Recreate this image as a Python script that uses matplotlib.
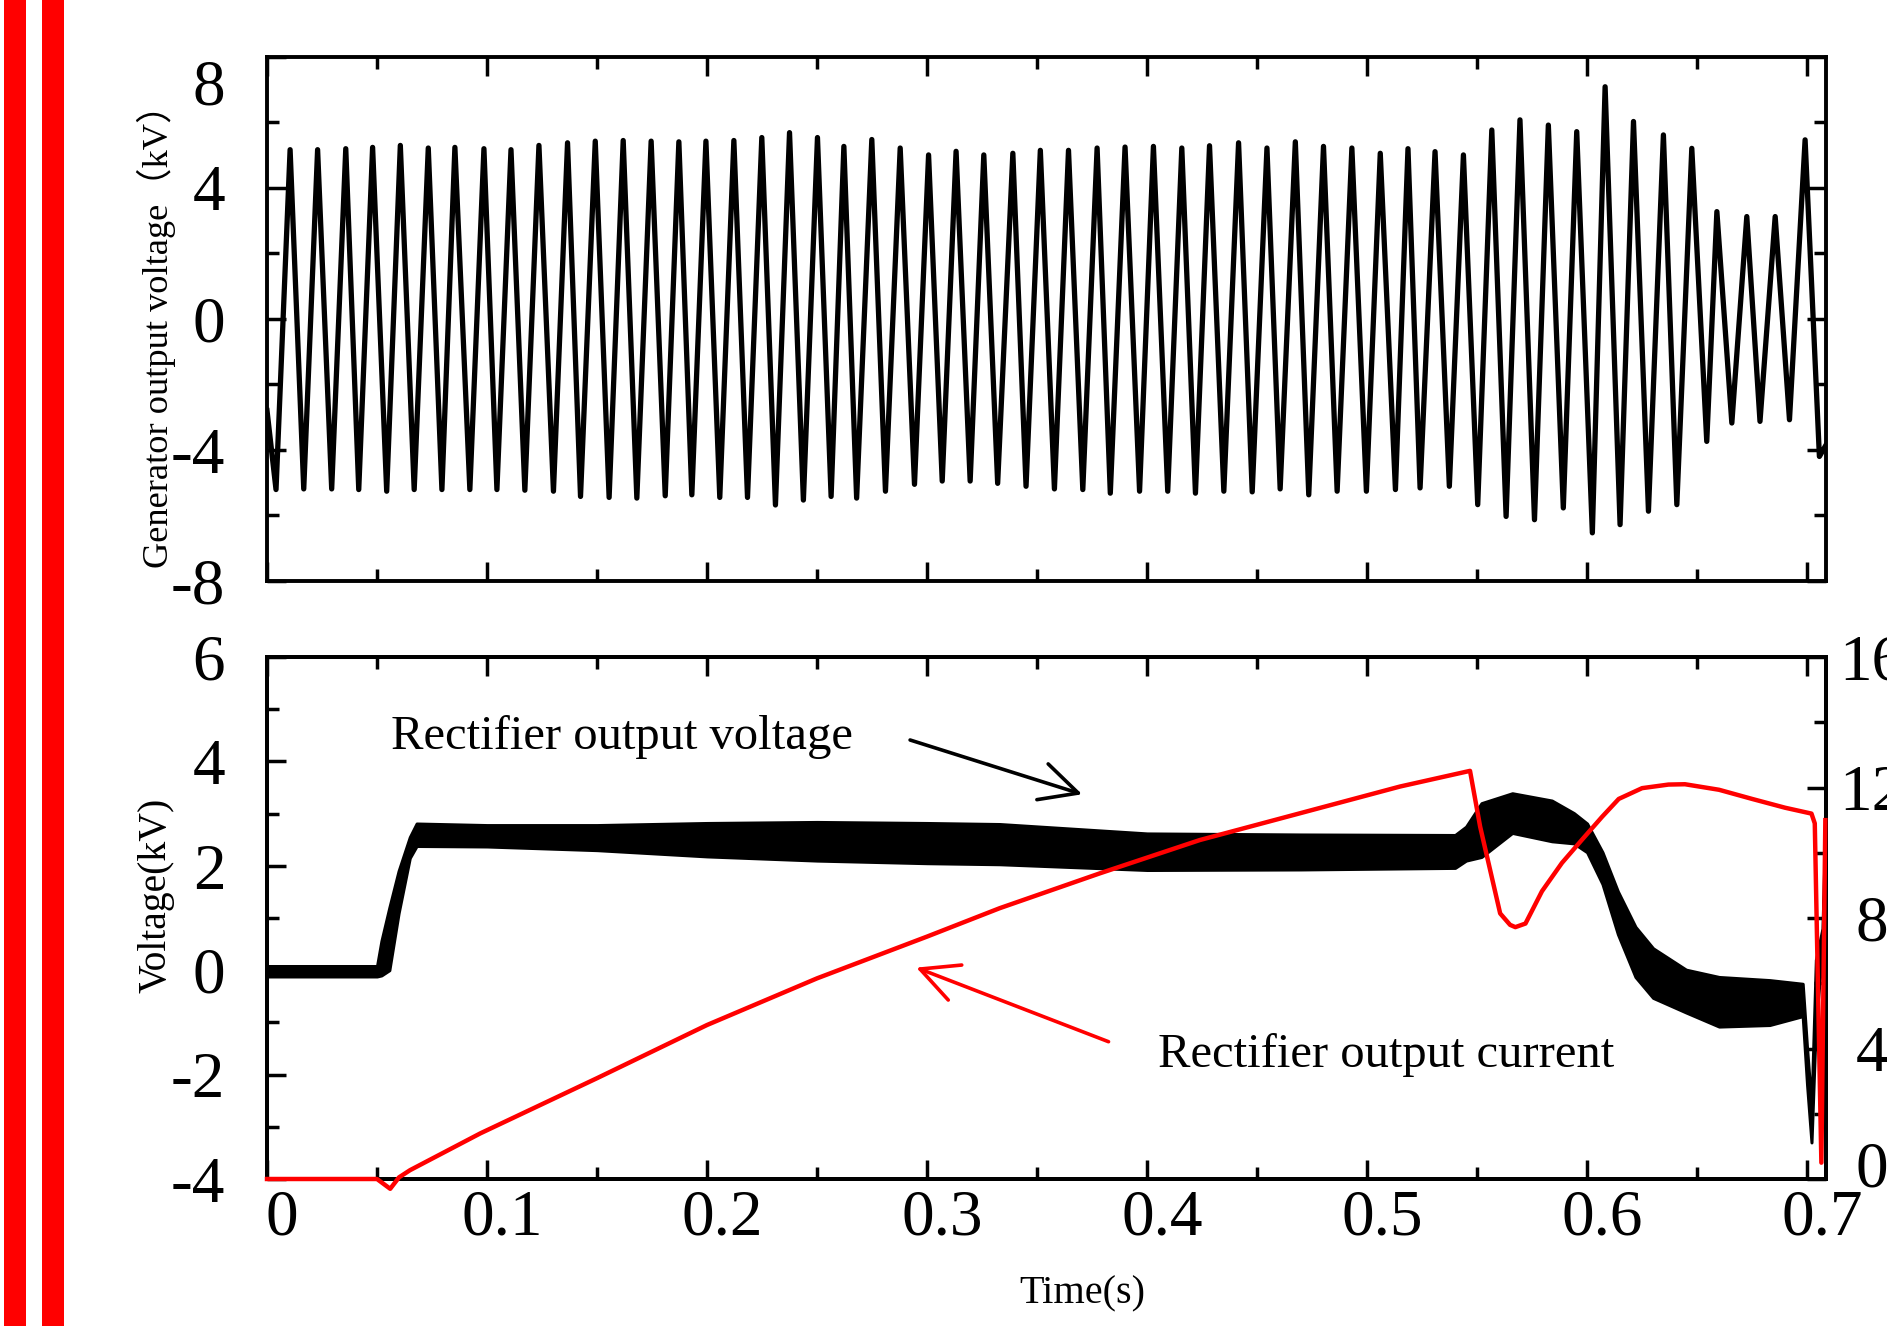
import numpy as np
import matplotlib
matplotlib.use('Agg')
import matplotlib.pyplot as plt
from matplotlib.patches import Rectangle
from matplotlib.transforms import ScaledTranslation
from matplotlib.ticker import MultipleLocator

plt.rcParams['font.family'] = ['Liberation Serif', 'Noto Sans CJK SC', 'DejaVu Sans']
plt.rcParams['axes.unicode_minus'] = False

# ---------------- data ----------------
# Generator output voltage: peaks and troughs (time s, kV)
peak_t = [0.0105, 0.0230, 0.0358, 0.0480, 0.0606, 0.0733, 0.0854, 0.0986, 0.1109, 0.1236,
          0.1366, 0.1492, 0.1619, 0.1746, 0.1872, 0.1995, 0.2122, 0.2249, 0.2375, 0.2502,
          0.2622, 0.2749, 0.2878, 0.3007, 0.3132, 0.3258, 0.3390, 0.3515, 0.3643, 0.3773,
          0.3900, 0.4029, 0.4158, 0.4284, 0.4416, 0.4545, 0.4674, 0.4802, 0.4931, 0.5060,
          0.5186, 0.5309, 0.5438, 0.5567, 0.5695, 0.5824, 0.5953, 0.6082, 0.6211, 0.6347,
          0.6476, 0.6590, 0.6726, 0.6855, 0.6991]
peak_v = [5.16, 5.16, 5.19, 5.23, 5.29, 5.21, 5.23, 5.19, 5.16, 5.29,
          5.37, 5.42, 5.44, 5.42, 5.40, 5.42, 5.44, 5.53, 5.68, 5.53,
          5.26, 5.47, 5.21, 5.00, 5.11, 5.00, 5.05, 5.14, 5.14, 5.21,
          5.24, 5.26, 5.21, 5.28, 5.37, 5.21, 5.40, 5.26, 5.21, 5.05,
          5.19, 5.10, 5.00, 5.76, 6.07, 5.91, 5.71, 7.08, 6.02, 5.61,
          5.20, 3.27, 3.12, 3.12, 5.46]
trough_t = [0.0041, 0.0167, 0.0294, 0.0417, 0.0544, 0.0669, 0.0795, 0.0922, 0.1045, 0.1172,
            0.1302, 0.1425, 0.1555, 0.1681, 0.1810, 0.1931, 0.2058, 0.2184, 0.2311, 0.2438,
            0.2564, 0.2680, 0.2811, 0.2943, 0.3069, 0.3196, 0.3321, 0.3450, 0.3579, 0.3708,
            0.3833, 0.3966, 0.4094, 0.4220, 0.4349, 0.4478, 0.4605, 0.4735, 0.4864, 0.4997,
            0.5129, 0.5241, 0.5374, 0.5503, 0.5632, 0.5761, 0.5892, 0.6024, 0.6150, 0.6279,
            0.6408, 0.6544, 0.6658, 0.6786, 0.6920, 0.7056]
trough_v = [-5.21, -5.19, -5.19, -5.21, -5.26, -5.21, -5.21, -5.21, -5.21, -5.23,
            -5.26, -5.42, -5.45, -5.47, -5.40, -5.37, -5.45, -5.45, -5.68, -5.53,
            -5.42, -5.47, -5.26, -5.05, -4.95, -4.95, -5.02, -5.11, -5.19, -5.21,
            -5.32, -5.26, -5.26, -5.32, -5.26, -5.28, -5.19, -5.37, -5.26, -5.26,
            -5.21, -5.16, -5.11, -5.67, -6.03, -6.13, -5.77, -6.53, -6.28, -5.87,
            -5.67, -3.74, -3.18, -3.13, -3.08, -4.20]
gen_start = (0.0, -2.8)
gen_end = (0.7086, -3.85)

# Rectifier output voltage: ripple band (time s, lower kV, upper kV)
rect_t = [0.0, 0.050, 0.052, 0.0556, 0.0598, 0.0649, 0.068, 0.10, 0.15, 0.20,
          0.25, 0.30, 0.333, 0.40, 0.47, 0.54, 0.545, 0.552, 0.566, 0.584,
          0.594, 0.600, 0.607, 0.614, 0.622, 0.630, 0.645, 0.660, 0.683, 0.698,
          0.700, 0.702, 0.704, 0.707, 0.7086]
rect_lo = [-0.12, -0.12, -0.10, 0.00, 1.09, 2.15, 2.38, 2.37, 2.30, 2.18,
           2.10, 2.05, 2.03, 1.92, 1.93, 1.96, 2.10, 2.17, 2.63, 2.47,
           2.43, 2.26, 1.65, 0.69, -0.13, -0.53, -0.81, -1.08, -1.05, -0.88,
           -2.2, -3.30, -1.00, 0.40, 2.80]
rect_hi = [0.08, 0.08, 0.56, 1.20, 1.90, 2.55, 2.81, 2.78, 2.78, 2.82,
           2.84, 2.82, 2.80, 2.62, 2.60, 2.59, 2.75, 3.20, 3.39, 3.25,
           3.01, 2.81, 2.26, 1.51, 0.83, 0.42, 0.01, -0.13, -0.19, -0.26,
           -1.5, -2.60, 0.20, 0.80, 3.20]

# Rectifier output current (right axis)
cur_t = [0.0, 0.050, 0.056, 0.060, 0.065, 0.097, 0.150, 0.200, 0.250, 0.300,
         0.333, 0.3786, 0.424, 0.4695, 0.515, 0.5468, 0.5514, 0.5605, 0.565, 0.5674,
         0.572, 0.5795, 0.5886, 0.5977, 0.6068, 0.6144, 0.625, 0.637, 0.6445, 0.660,
         0.675, 0.690, 0.702, 0.7035, 0.7065, 0.7083]
cur_v = [0.0, 0.0, -0.30, 0.05, 0.27, 1.40, 3.09, 4.72, 6.15, 7.43,
         8.30, 9.37, 10.39, 11.21, 12.03, 12.51, 10.80, 8.14, 7.79, 7.72,
         7.83, 8.82, 9.69, 10.40, 11.10, 11.65, 11.98, 12.09, 12.10, 11.93,
         11.65, 11.38, 11.20, 10.90, 0.50, 11.00]

xtick_vals = [0, 0.1, 0.2, 0.3, 0.4, 0.5, 0.6, 0.7]
xtick_labels = ['0', '0.1', '0.2', '0.3', '0.4', '0.5', '0.6', '0.7']
gen_yticks = [-8, -4, 0, 4, 8]
volt_yticks = [-4, -2, 0, 2, 4, 6]
cur_yticks = [0, 4, 8, 12, 16]

# ---------------- figure ----------------
W, H = 1887, 1326
fig = plt.figure(figsize=(W / 100, H / 100), dpi=100)

for x0 in (4, 42):
    fig.add_artist(Rectangle((x0 / W, 0), 22 / W, 1, transform=fig.transFigure,
                             color='#FF0000', lw=0))

L, Wd = 267 / W, (1826 - 267) / W
ax1 = fig.add_axes([L, 1 - 581 / H, Wd, (581 - 56.6) / H])
ax2 = fig.add_axes([L, 1 - 1179 / H, Wd, (1179 - 657) / H])
ax2r = ax2.twinx()

TS = 47
spine_lw = 2.8
for ax in (ax1, ax2, ax2r):
    for s in ax.spines.values():
        s.set_linewidth(spine_lw)

def style(ax, **kw):
    ax.tick_params(which='both', direction='in', width=2.5, **kw)
    ax.tick_params(which='major', length=14)
    ax.tick_params(which='minor', length=8.5)

# top panel: generator output voltage
pts = sorted(list(zip(peak_t, peak_v)) + list(zip(trough_t, trough_v)))
gx = [gen_start[0]] + [p[0] for p in pts] + [gen_end[0]]
gy = [gen_start[1]] + [p[1] for p in pts] + [gen_end[1]]
ax1.plot(gx, gy, color='black', lw=3.8, solid_joinstyle='round')
ax1.set_xlim(0, 0.7086)
ax1.set_ylim(-8, 8)
ax1.set_xticks(xtick_vals)
ax1.xaxis.set_minor_locator(MultipleLocator(0.05))
ax1.set_yticks(gen_yticks, labels=[str(v) for v in gen_yticks])
ax1.yaxis.set_minor_locator(MultipleLocator(2))
style(ax1, top=True, right=True, bottom=True, left=True, labelbottom=False)
ax1.tick_params(axis='y', labelsize=TS, pad=30)

# bottom panel: rectifier voltage and current
ax2.fill_between(rect_t, rect_lo, rect_hi, facecolor='black', edgecolor='black', lw=2.2)
ax2.set_xlim(0, 0.7086)
ax2.set_ylim(-4, 6)
ax2.set_xticks(xtick_vals, labels=xtick_labels)
ax2.xaxis.set_minor_locator(MultipleLocator(0.05))
ax2.set_yticks(volt_yticks, labels=[str(v) for v in volt_yticks])
ax2.yaxis.set_minor_locator(MultipleLocator(1))
style(ax2, top=True, right=False, bottom=True, left=True)
ax2.tick_params(axis='y', labelsize=TS, pad=30)
ax2.tick_params(axis='x', labelsize=TS, pad=7)

ax2r.plot(cur_t, cur_v, color='#FF0000', lw=3.2, zorder=3, clip_on=False)
ax2r.set_ylim(0, 16)
ax2r.set_yticks(cur_yticks, labels=[str(v) for v in cur_yticks])
ax2r.yaxis.set_minor_locator(MultipleLocator(2))
style(ax2r, right=True, left=False, top=False, bottom=False)
ax2r.tick_params(axis='y', labelsize=TS, pad=33)
for lbl in ax2r.get_yticklabels():
    lbl.set_horizontalalignment('center')
ax2r.set_xlim(0, 0.7086)

# label offsets as in the original
dpi_tr = fig.dpi_scale_trans
for lbl in ax2.get_xticklabels():
    lbl.set_transform(lbl.get_transform() + ScaledTranslation(0.15, 0, dpi_tr))
top_lbls = ax1.get_yticklabels()
top_lbls[-1].set_transform(top_lbls[-1].get_transform() + ScaledTranslation(0, -0.25, dpi_tr))
r_lbls = ax2r.get_yticklabels()
r_lbls[0].set_transform(r_lbls[0].get_transform() + ScaledTranslation(0, 0.15, dpi_tr))

# annotations
ax2.annotate('', xy=(0.3705, 3.37), xytext=(0.2923, 4.41),
             arrowprops=dict(arrowstyle='->,head_length=0.9,head_width=0.45',
                             color='black', lw=2.6, mutation_scale=30,
                             shrinkA=0, shrinkB=0))
ax2.text(0.0563, 4.46, 'Rectifier output voltage', fontsize=35, va='center', ha='left')
ax2.annotate('', xy=(0.2951, 0.05), xytext=(0.3825, -1.37),
             arrowprops=dict(arrowstyle='->,head_length=0.9,head_width=0.45',
                             color='#FF0000', lw=2.6, mutation_scale=30,
                             shrinkA=0, shrinkB=0))
ax2.text(0.405, -1.63, 'Rectifier output current', fontsize=35, va='center', ha='left')

# axis titles
fig.text(156 / W, 1 - 327 / H, 'Generator output voltage（kV）', rotation=90,
         fontsize=26.2, ha='center', va='center')
fig.text(156 / W, 1 - 895 / H, 'Voltage(kV)', rotation=90,
         fontsize=28.5, ha='center', va='center')
fig.text(1082 / W, 1 - 1294 / H, 'Time(s)', fontsize=29, ha='center', va='center')

fig.savefig('out.png', dpi=100)
